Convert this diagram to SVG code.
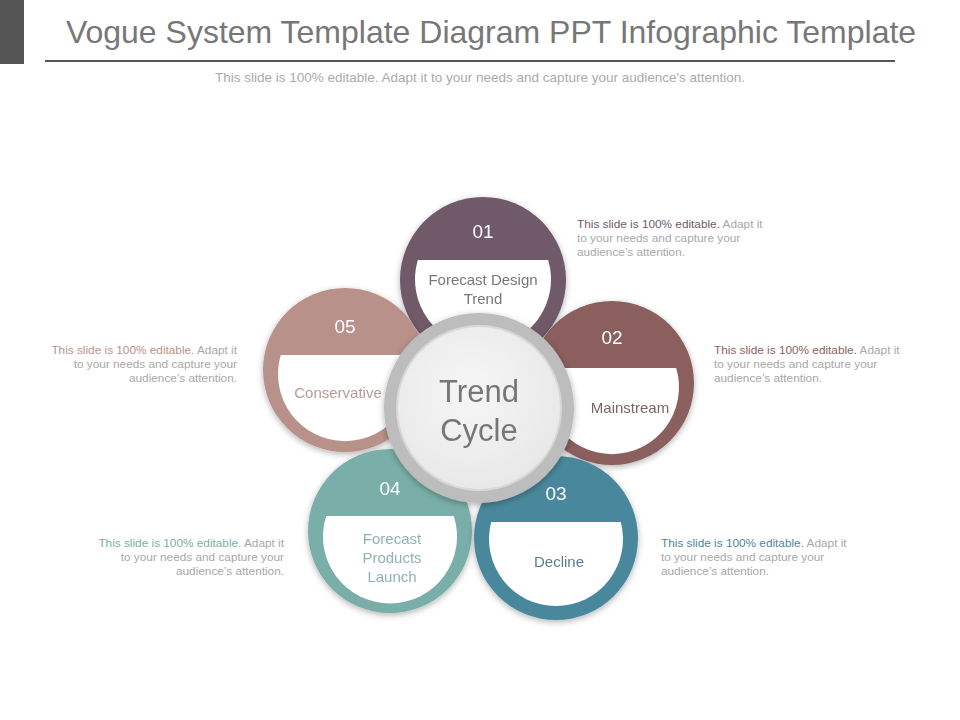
<svg xmlns="http://www.w3.org/2000/svg" width="960" height="720" viewBox="0 0 960 720">
<defs>
<style>
text{font-family:"Liberation Sans",Arial,sans-serif}
.num{fill:#fff;font-size:19px;text-anchor:middle}
.lab{font-size:15px;text-anchor:middle}
.d{font-size:11.8px}
.lt{fill:#a8a8a8}
</style>
<radialGradient id="cg" cx="0.45" cy="0.4" r="0.7"><stop offset="0" stop-color="#f6f6f6"/><stop offset="1" stop-color="#e6e6e6"/></radialGradient>
<filter id="sh" x="-20%" y="-20%" width="140%" height="140%"><feDropShadow dx="0" dy="2" stdDeviation="3" flood-opacity="0.3"/></filter>
</defs>
<rect width="960" height="720" fill="#fff"/>
<g id="header">
<rect x="0" y="0" width="24" height="64" fill="#555"/>
<text x="491" y="43" font-size="32" fill="#777" text-anchor="middle">Vogue System Template Diagram PPT Infographic Template</text>
<line x1="45" y1="61" x2="895" y2="61" stroke="#555" stroke-width="2"/>
<text x="480" y="82" font-size="13.5" fill="#aaa" text-anchor="middle">This slide is 100% editable.  Adapt it to your needs and capture your audience's attention.</text>
</g>
<g id="connectors"></g>
<g id="n01" filter="url(#sh)">
<circle cx="483" cy="280" r="83" fill="#6f5a6b"/>
<path d="M417.8,260 A68,68 0 1 0 548.2,260 Z" fill="#fff"/>
<text class="num" x="483" y="238">01</text>
<text class="lab" x="483" y="285" fill="#777">Forecast Design</text>
<text class="lab" x="483" y="304" fill="#777">Trend</text>
</g>
<g id="n02" filter="url(#sh)">
<circle cx="612" cy="383" r="82" fill="#8a5f5d"/>
<path d="M547.8,368 A67,67 0 1 0 676.2,368 Z" fill="#fff"/>
<text class="num" x="612" y="344">02</text>
<text class="lab" x="630" y="413" fill="#7a6464">Mainstream</text>
</g>
<g id="n05" filter="url(#sh)">
<circle cx="345" cy="370" r="82" fill="#b8928a"/>
<path d="M280.8,355 A67,67 0 1 0 409.2,355 Z" fill="#fff"/>
<text class="num" x="345" y="333">05</text>
<text class="lab" x="338" y="398" fill="#b89a92">Conservative</text>
</g>
<g id="n04" filter="url(#sh)">
<circle cx="390" cy="531" r="82" fill="#7aaea8"/>
<path d="M326.2,516 A67,67 0 1 0 453.8,516 Z" fill="#fff"/>
<text class="num" x="390" y="495">04</text>
<text class="lab" x="392" y="544" fill="#8fb3b0">Forecast</text>
<text class="lab" x="392" y="563" fill="#8fb3b0">Products</text>
<text class="lab" x="392" y="582" fill="#8fb3b0">Launch</text>
</g>
<g id="n03" filter="url(#sh)">
<circle cx="556" cy="538" r="82" fill="#4a889c"/>
<path d="M491.2,522 A67,67 0 1 0 620.8,522 Z" fill="#fff"/>
<text class="num" x="556" y="500">03</text>
<text class="lab" x="559" y="567" fill="#5a7f8c">Decline</text>
</g>
<g id="center" filter="url(#sh)">
<circle cx="479" cy="408" r="95" fill="#bdbdbd"/>
<circle cx="479" cy="408" r="82" fill="url(#cg)" stroke="#d8d8d8" stroke-width="2"/>
<text x="479" y="402" font-size="31" fill="#777" text-anchor="middle">Trend</text>
<text x="479" y="441" font-size="31" fill="#777" text-anchor="middle">Cycle</text>
</g>
<g id="desc01" class="d">
<text x="577" y="228"><tspan fill="#6f5a6b">This slide is 100% editable.</tspan><tspan class="lt"> Adapt it</tspan></text>
<text class="lt" x="577" y="242">to your needs and capture your</text>
<text class="lt" x="577" y="256">audience’s attention.</text>
</g>
<g id="desc02" class="d">
<text x="714" y="354"><tspan fill="#8a5f5d">This slide is 100% editable.</tspan><tspan class="lt"> Adapt it</tspan></text>
<text class="lt" x="714" y="368">to your needs and capture your</text>
<text class="lt" x="714" y="382">audience’s attention.</text>
</g>
<g id="desc03" class="d">
<text x="661" y="547"><tspan fill="#4a889c">This slide is 100% editable.</tspan><tspan class="lt"> Adapt it</tspan></text>
<text class="lt" x="661" y="561">to your needs and capture your</text>
<text class="lt" x="661" y="575">audience’s attention.</text>
</g>
<g id="desc05" class="d" text-anchor="end">
<text x="237" y="354"><tspan fill="#b8928a">This slide is 100% editable.</tspan><tspan class="lt"> Adapt it</tspan></text>
<text class="lt" x="237" y="368">to your needs and capture your</text>
<text class="lt" x="237" y="382">audience’s attention.</text>
</g>
<g id="desc04" class="d" text-anchor="end">
<text x="284" y="547"><tspan fill="#7aaea8">This slide is 100% editable.</tspan><tspan class="lt"> Adapt it</tspan></text>
<text class="lt" x="284" y="561">to your needs and capture your</text>
<text class="lt" x="284" y="575">audience’s attention.</text>
</g>
</svg>
